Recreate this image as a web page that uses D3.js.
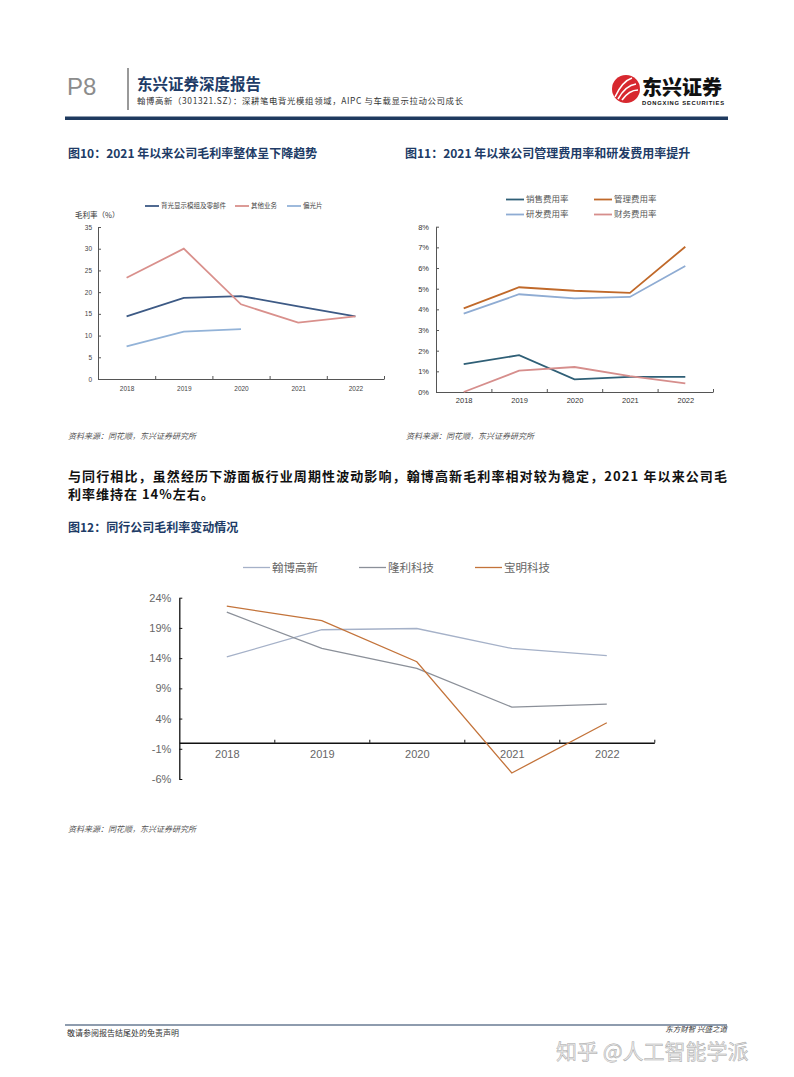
<!DOCTYPE html>
<html>
<head>
<meta charset="utf-8">
<script src="https://cdn.jsdelivr.net/npm/d3@7"></script>
<style>
  body { margin: 0; background: #fff; }
  svg text { font-family: "Noto Sans CJK SC", "Noto Sans", sans-serif; }
</style>
</head>
<body>
<div id="page"></div>
<script>
var years = ["2018", "2019", "2020", "2021", "2022"];

// 图10 毛利率 (%)
var fig10Names = ["背光显示模组及零部件", "其他业务", "偏光片"];
var backlightGM = [14.4, 18.7, 19.1, 16.7, 14.4];
var otherGM = [23.3, 30.0, 17.2, 13.0, 14.4];
var polarizerGM = [7.5, 10.9, 11.5, null, null];
var fig10Ticks = [0, 5, 10, 15, 20, 25, 30, 35];

// 图11 费用率 (%)
var fig11Names = ["销售费用率", "管理费用率", "研发费用率", "财务费用率"];
var salesRate = [1.35, 1.78, 0.61, 0.73, 0.73];
var adminRate = [4.05, 5.07, 4.9, 4.8, 7.03];
var rdRate = [3.79, 4.73, 4.53, 4.6, 6.1];
var financeRate = [0.0, 1.03, 1.21, 0.77, 0.42];
var fig11Ticks = [0, 1, 2, 3, 4, 5, 6, 7, 8];

// 图12 同行毛利率 (%)
var peerNames = ["翰博高新", "隆利科技", "宝明科技"];
var hanboGM = [14.2, 18.7, 18.9, 15.6, 14.4];
var longliGM = [21.6, 15.6, 12.3, 5.9, 6.4];
var baomingGM = [22.6, 20.2, 13.4, -5.0, 3.3];
var fig12Ticks = [-6, -1, 4, 9, 14, 19, 24];

var navy = "#1f3a5f", titleBlue = "#203b66";

var svg = d3.select("#page").append("svg")
    .attr("width", 794)
    .attr("height", 1077);

// ---------- header ----------
svg.append("text").attr("x", 67).attr("y", 95).text("P8")
    .style("font-family", "Liberation Sans").style("font-size", "24px").style("fill", "#8c8c8c");
svg.append("line").attr("x1", 128).attr("x2", 128).attr("y1", 68).attr("y2", 110)
    .style("stroke", "#555").style("stroke-width", 1.2);
svg.append("text").attr("x", 137).attr("y", 90).text("东兴证券深度报告")
    .style("font-size", "15.5px").style("font-weight", "bold").style("fill", titleBlue);
svg.append("text").attr("x", 137).attr("y", 104)
    .text("翰博高新（301321.SZ）：深耕笔电背光模组领域，AIPC 与车载显示拉动公司成长")
    .attr("textLength", 326).attr("lengthAdjust", "spacing")
    .style("font-size", "8.4px").style("fill", "#333");

// logo
svg.append("circle").attr("cx", 626).attr("cy", 89).attr("r", 14).style("fill", "#d7282f");
svg.append("path").attr("d", "M615,97 C620,86 626,80 632,78 M618,99 C623,90 629,85 636,84 M622,100 C627,93 632,90 638,90")
    .style("fill", "none").style("stroke", "#fff").style("stroke-width", 1.6);
svg.append("text").attr("x", 642).attr("y", 95).text("东兴证券")
    .style("font-size", "20px").style("font-weight", "900").style("fill", "#111");
svg.append("text").attr("x", 642).attr("y", 104.5).text("DONGXING SECURITIES")
    .attr("textLength", 82).style("font-family", "Liberation Sans")
    .style("font-size", "5.8px").style("font-weight", "bold").style("fill", "#111");

svg.append("rect").attr("x", 65).attr("y", 116.5).attr("width", 663).attr("height", 3.5).style("fill", navy);

// ---------- helpers ----------
function title(x, y, t) {
  svg.append("text").attr("x", x).attr("y", y).text(t)
      .style("font-size", "12px").style("font-weight", "bold").style("fill", titleBlue);
}
function source(x, y) {
  svg.append("text").attr("x", x).attr("y", y).text("资料来源：同花顺，东兴证券研究所")
      .style("font-size", "8px").style("font-style", "italic").style("fill", "#555");
}

function lineChart(o) {
  var g = svg.append("g");
  var x = d3.scaleLinear().domain([0, years.length]).range([o.x0, o.x1]);
  var y = d3.scaleLinear().domain(o.domain).range([o.yBottom, o.yTop]);
  var axisY = o.axisAt == null ? o.yBottom : y(o.axisAt);

  // y axis
  var ya = g.append("g").attr("transform", "translate(" + o.x0 + ",0)")
      .call(d3.axisLeft(y).tickValues(o.ticks).tickSizeInner(-3).tickSizeOuter(0).tickPadding(o.tickPad)
        .tickFormat(o.fmt));
  ya.select(".domain").style("stroke", o.axisColor).style("stroke-width", o.axisW);
  ya.selectAll(".tick line").style("stroke", o.axisColor);
  ya.selectAll("text").style("font-family", "Liberation Sans").style("font-size", o.fontSize + "px").style("fill", o.textColor);

  // x axis line + boundary ticks
  var xa = g.append("g").attr("transform", "translate(0," + axisY + ")")
      .call(d3.axisBottom(x).tickValues(d3.range(1, years.length + 1)).tickSizeInner(-3).tickSizeOuter(0).tickFormat(""));
  xa.select(".domain").style("stroke", o.axisColor).style("stroke-width", o.axisW);
  xa.selectAll(".tick line").style("stroke", o.axisColor);

  // x labels
  var xl = g.append("g").attr("transform", "translate(0," + (o.labelY) + ")")
      .call(d3.axisBottom(x).tickValues(d3.range(years.length).map(function(i) { return i + 0.5; }))
        .tickSize(0).tickPadding(0).tickFormat(function(d) { return years[Math.floor(d)]; }));
  xl.select(".domain").remove();
  xl.selectAll("text").style("font-family", "Liberation Sans").style("font-size", o.fontSize + "px").style("fill", o.textColor);

  var line = d3.line()
      .defined(function(d) { return d != null; })
      .x(function(d, i) { return x(i + 0.5); })
      .y(function(d) { return y(d); });
  o.series.forEach(function(s) {
    g.append("path").datum(s.values).attr("d", line)
        .style("fill", "none").style("stroke", s.color).style("stroke-width", o.lineW);
  });
  return g;
}

function legendItem(x, y, len, name, color, size, textColor, w) {
  svg.append("line").attr("x1", x).attr("x2", x + len).attr("y1", y).attr("y2", y)
      .style("stroke", color).style("stroke-width", w);
  svg.append("text").attr("x", x + len + 2).attr("y", y).attr("dy", "0.35em").text(name)
      .style("font-size", size + "px").style("fill", textColor);
}

// ---------- 图10 ----------
title(68, 158, "图10：2021 年以来公司毛利率整体呈下降趋势");
var c10 = ["#3d5a85", "#d9908c", "#93b3d8"];
lineChart({
  x0: 98, x1: 384, yTop: 227, yBottom: 379, domain: [0, 35], ticks: fig10Ticks,
  fmt: d3.format("d"), tickPad: 6, fontSize: 6.5, textColor: "#444",
  axisColor: "#555", axisW: 1, labelY: 386, lineW: 1.8,
  series: [
    {values: backlightGM, color: c10[0]},
    {values: otherGM, color: c10[1]},
    {values: polarizerGM, color: c10[2]}
  ]
});
svg.append("text").attr("x", 75).attr("y", 218).text("毛利率（%）")
    .style("font-size", "7.5px").style("fill", "#333");
legendItem(145, 206, 14, fig10Names[0], c10[0], 6.5, "#444", 1.8);
legendItem(235, 206, 14, fig10Names[1], c10[1], 6.5, "#444", 1.8);
legendItem(287, 206, 14, fig10Names[2], c10[2], 6.5, "#444", 1.8);
source(68, 439);

// ---------- 图11 ----------
title(405, 158, "图11：2021 年以来公司管理费用率和研发费用率提升");
var c11 = ["#2f5f76", "#c0692a", "#8facd3", "#d68e8c"];
lineChart({
  x0: 436, x1: 713, yTop: 226.7, yBottom: 392, domain: [0, 8], ticks: fig11Ticks,
  fmt: function(d) { return d + "%"; }, tickPad: 7, fontSize: 7.5, textColor: "#333",
  axisColor: "#555", axisW: 1, labelY: 398, lineW: 1.8,
  series: [
    {values: salesRate, color: c11[0]},
    {values: adminRate, color: c11[1]},
    {values: rdRate, color: c11[2]},
    {values: financeRate, color: c11[3]}
  ]
});
legendItem(506, 199.5, 18, fig11Names[0], c11[0], 8.5, "#555", 1.8);
legendItem(594, 199.5, 18, fig11Names[1], c11[1], 8.5, "#555", 1.8);
legendItem(506, 214.5, 18, fig11Names[2], c11[2], 8.5, "#555", 1.8);
legendItem(594, 214.5, 18, fig11Names[3], c11[3], 8.5, "#555", 1.8);
source(406, 439);

// ---------- paragraph ----------
svg.append("text").attr("x", 68).attr("y", 481)
    .text("与同行相比，虽然经历下游面板行业周期性波动影响，翰博高新毛利率相对较为稳定，2021 年以来公司毛")
    .attr("textLength", 659).attr("lengthAdjust", "spacing")
    .style("font-size", "13px").style("font-weight", "bold").style("fill", "#111");
svg.append("text").attr("x", 68).attr("y", 499)
    .text("利率维持在 14%左右。")
    .style("font-size", "13px").style("letter-spacing", "1px").style("font-weight", "bold").style("fill", "#111");

// ---------- 图12 ----------
title(68, 532, "图12：同行公司毛利率变动情况");
var c12 = ["#a5b1c8", "#8b9099", "#c3733a"];
lineChart({
  x0: 179.3, x1: 654.3, yTop: 597.7, yBottom: 779, domain: [-6, 24], ticks: fig12Ticks,
  fmt: function(d) { return d + "%"; }, tickPad: 8, fontSize: 11, textColor: "#666",
  axisColor: "#111", axisW: 1.3, axisAt: 0, labelY: 750.5, lineW: 1.3,
  series: [
    {values: hanboGM, color: c12[0]},
    {values: longliGM, color: c12[1]},
    {values: baomingGM, color: c12[2]}
  ]
});
legendItem(243, 567.5, 27, peerNames[0], c12[0], 11.5, "#666", 1.3);
legendItem(359, 567.5, 27, peerNames[1], c12[1], 11.5, "#666", 1.3);
legendItem(475, 567.5, 27, peerNames[2], c12[2], 11.5, "#666", 1.3);
source(68, 832);

// ---------- footer ----------
svg.append("line").attr("x1", 65).attr("x2", 727).attr("y1", 1025).attr("y2", 1025)
    .style("stroke", navy).style("stroke-width", 1.2);
svg.append("text").attr("x", 67).attr("y", 1036).text("敬请参阅报告结尾处的免责声明")
    .style("font-size", "8px").style("fill", "#333");
svg.append("text").attr("x", 727).attr("y", 1032).attr("text-anchor", "end").text("东方财智 兴盛之道")
    .style("font-size", "7.5px").style("font-style", "italic").style("fill", "#333");
svg.append("text").attr("x", 556).attr("y", 1059).text("知乎 @人工智能学派")
    .style("font-size", "21px").style("fill", "#ececec").style("stroke", "#a8a8a8").style("stroke-width", 0.5);
</script>
</body>
</html>
